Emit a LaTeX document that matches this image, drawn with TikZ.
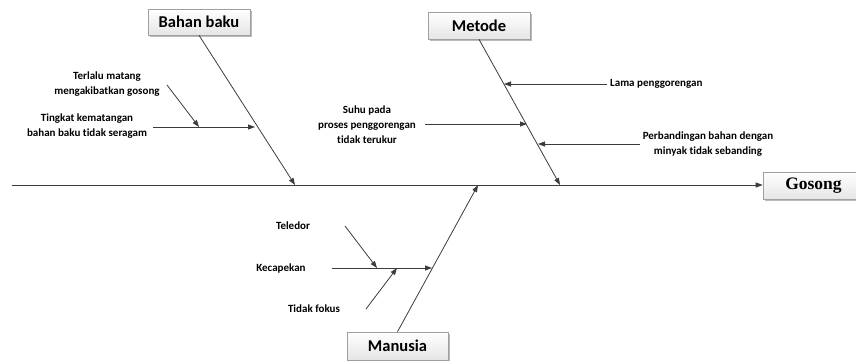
\documentclass[tikz,border=0pt]{standalone}
\usepackage{fontspec}
\newfontfamily\calib[Ligatures=NoCommon]{Carlito}
\newfontfamily\timesf{Liberation Serif}
\usetikzlibrary{arrows.meta,shadows}
\definecolor{linec}{HTML}{3C3C3C}
\begin{document}
\begin{tikzpicture}[x=1pt,y=-1pt,
  box/.style={draw=gray!75, line width=0.6pt, top color=white, bottom color=gray!20,
    drop shadow={shadow xshift=1.6pt, shadow yshift=-1.6pt, fill=gray!55, opacity=1},
    inner sep=0pt, font=\calib\bfseries\fontsize{16.5}{18}\selectfont},
  lbl/.style={inner sep=0pt, align=center, font=\calib\bfseries\fontsize{11}{15}\selectfont},
  arr/.style={draw=linec, line width=0.8pt, -{Triangle[length=7pt,width=5pt]}}
]
\useasboundingbox (0,0) rectangle (856,360);

% boxes
\node[box, minimum width=102pt, minimum height=26pt] (bb) at (199,22) {Bahan baku};
\node[box, minimum width=102pt, minimum height=27pt] (me) at (479,25.5) {Metode};
\node[box, minimum width=101pt, minimum height=28pt] (ma) at (397.5,346) {Manusia};
\node[box, minimum width=93pt, minimum height=27pt, text width=93pt, align=center, font=\timesf\bfseries\fontsize{17.5}{18}\selectfont] (go) at (809.5,185.5) {\hspace*{8pt}Gosong};

% spine
\coordinate (sp0) at (12,185);
\draw[arr] (sp0) -- (go.west |- sp0);

% main bones
\coordinate (bbend) at (295,185);
\coordinate (meend) at (560,185);
\coordinate (maend) at (478,185);
\draw[arr] (bb.south) -- (bbend);
\draw[arr] (me.south) -- (meend);
\draw[arr] (ma.north) -- (maend);

% labels
\node[lbl] (l1) at (107,84.5) {Terlalu matang\\mengakibatkan gosong};
\node[lbl] (l2) at (87,126.5) {Tingkat kematangan\\bahan baku tidak seragam};
\node[lbl] (l3) at (367,125) {Suhu pada\\proses penggorengan\\tidak terukur};
\node[lbl, anchor=west] (l4) at (610,84) {Lama penggorengan};
\node[lbl] (l5) at (708,144.5) {Perbandingan bahan dengan\\minyak tidak sebanding};
\node[lbl] (l6) at (293,226) {Teledor};
\node[lbl] (l7) at (281,268) {Kecapekan};
\node[lbl] (l8) at (314,309) {Tidak fokus};

% sub arrows
\coordinate (a1s) at (167,85);  \coordinate (a1e) at (199,127);
\coordinate (a2s) at (153,127); \coordinate (a2e) at (255,127);
\coordinate (a3s) at (425,124); \coordinate (a3e) at (527,124);
\coordinate (a4s) at (607,84);  \coordinate (a4e) at (504,84);
\coordinate (a5s) at (640,144); \coordinate (a5e) at (538,144);
\coordinate (a6s) at (345,226); \coordinate (a6e) at (377,268);
\coordinate (a7s) at (332,268); \coordinate (a7e) at (432,268);
\coordinate (a8s) at (366,309); \coordinate (a8e) at (397,268);
\draw[arr] (a1s) -- (a1e);
\draw[arr] (a2s) -- (a2e);
\draw[arr] (a3s) -- (a3e);
\draw[arr] (a4s) -- (a4e);
\draw[arr] (a5s) -- (a5e);
\draw[arr] (a6s) -- (a6e);
\draw[arr] (a7s) -- (a7e);
\draw[arr] (a8s) -- (a8e);
\end{tikzpicture}
\end{document}
